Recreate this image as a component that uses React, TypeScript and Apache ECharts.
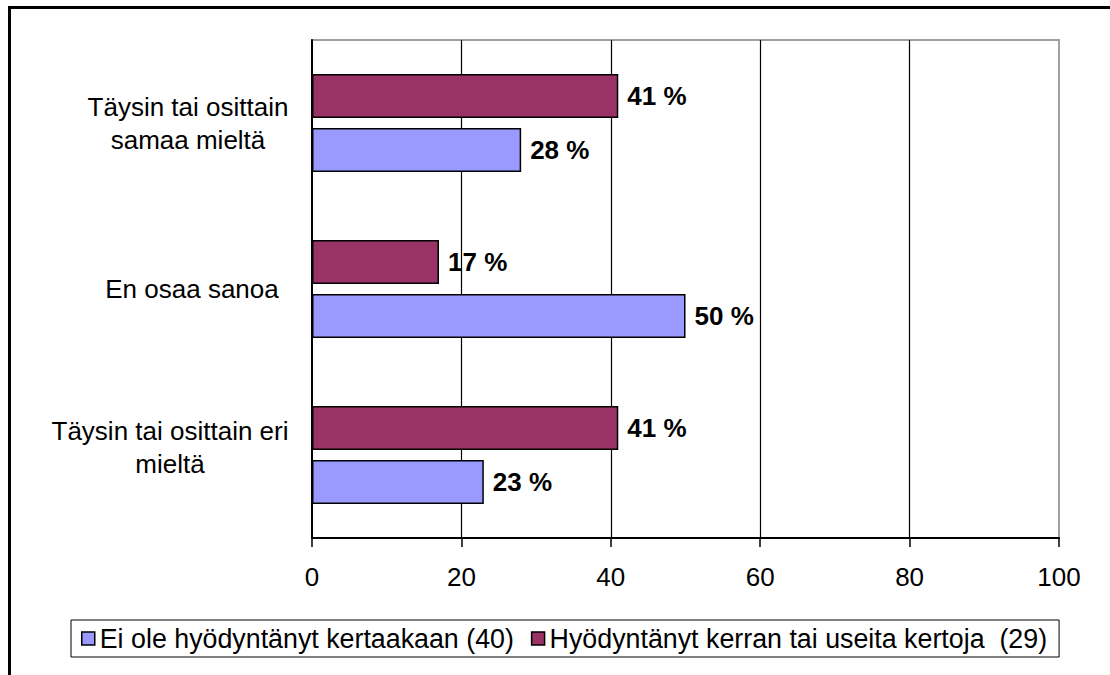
import React, { useEffect, useRef } from "react";
import * as echarts from "echarts";

const categories = [
  "Täysin tai osittain eri\nmieltä",
  "En osaa sanoa",
  "Täysin tai osittain\nsamaa mieltä",
];
const seriesNames = [
  "Ei ole hyödyntänyt kertaakaan (40)",
  "Hyödyntänyt kerran tai useita kertoja  (29)",
];
const neverUsed = [23, 50, 28];
const usedOnceOrMore = [41, 17, 41];
const xTicks = [0, 20, 40, 60, 80, 100];

const FONT = "'Liberation Sans', Arial, sans-serif";

export default function App() {
  const ref = useRef<HTMLDivElement>(null);
  useEffect(() => {
    if (!ref.current) return;
    const chart = echarts.init(ref.current, null, { renderer: "svg" });
    const base = { fontFamily: FONT, fontSize: 26, color: "#000", lineHeight: 33 };
    const barLabel = {
      show: true,
      position: "right",
      distance: 9,
      formatter: "{c} %",
      fontFamily: FONT,
      fontSize: 26,
      fontWeight: "bold",
      color: "#000",
    };
    chart.setOption({
      animation: false,
      backgroundColor: "#fff",
      textStyle: { fontFamily: FONT },
      graphic: [
        {
          type: "rect",
          shape: { x: 9.5, y: 7.5, width: 1200, height: 800 },
          style: { fill: "none", stroke: "#000", lineWidth: 3 },
          silent: true,
        },
      ],
      grid: {
        left: 312,
        right: 51,
        top: 40,
        bottom: 137,
        show: true,
        borderColor: "#a0a0a0",
        borderWidth: 2,
        backgroundColor: "transparent",
      },
      legend: {
        left: 71,
        top: 620,
        orient: "horizontal",
        padding: [5, 12, 5, 10],
        backgroundColor: "#fff",
        borderColor: "#000",
        borderWidth: 1,
        borderRadius: 0,
        itemWidth: 13,
        itemHeight: 13,
        itemGap: 17,
        icon: "rect",
        textStyle: { fontFamily: FONT, fontSize: 26.8, color: "#000" },
        itemStyle: { borderColor: "#000", borderWidth: 1.5 },
        data: seriesNames,
      },
      xAxis: {
        type: "value",
        min: xTicks[0],
        max: xTicks[xTicks.length - 1],
        interval: xTicks[1] - xTicks[0],
        axisLine: { show: true, lineStyle: { color: "#000", width: 2 } },
        axisTick: { show: true, inside: false, length: 9, lineStyle: { color: "#000", width: 1.5 } },
        axisLabel: { fontFamily: FONT, fontSize: 26, color: "#000", margin: 26 },
        splitLine: {
          show: true,
          showMinLine: false,
          showMaxLine: false,
          lineStyle: { color: "#000", width: 1.2 },
        },
      },
      yAxis: {
        type: "category",
        data: categories,
        axisLine: { show: true, lineStyle: { color: "#000", width: 2 } },
        axisTick: { show: false },
        splitLine: { show: false },
        axisLabel: {
          align: "right",
          margin: 23,
          formatter: (v: string, i: number) => {
            const body = v
              .split("\n")
              .map((l) => `{c${i}|${l}}`)
              .join("\n");
            return i === 0 ? body + "\n{s| }" : body;
          },
          rich: {
            c0: { ...base, width: 238, align: "center" },
            c1: { ...base, width: 174, align: "center", padding: [0, 10, 0, 0] },
            c2: { ...base, width: 202, align: "center" },
            s: { fontFamily: FONT, fontSize: 10, lineHeight: 16, width: 238 },
          },
        },
      },
      series: [
        {
          name: seriesNames[1],
          type: "bar",
          data: usedOnceOrMore,
          barGap: "22.7%",
          barCategoryGap: "41%",
          itemStyle: { color: "#993366", borderColor: "#000", borderWidth: 1.5 },
          label: barLabel,
        },
        {
          name: seriesNames[0],
          type: "bar",
          data: neverUsed,
          barGap: "22.7%",
          barCategoryGap: "41%",
          itemStyle: { color: "#9999FF", borderColor: "#000", borderWidth: 1.5 },
          label: barLabel,
        },
      ],
    });
    return () => chart.dispose();
  }, []);
  return (
    <div
      ref={ref}
      style={{ position: "absolute", left: 0, top: 0, width: 1110, height: 675 }}
    />
  );
}
